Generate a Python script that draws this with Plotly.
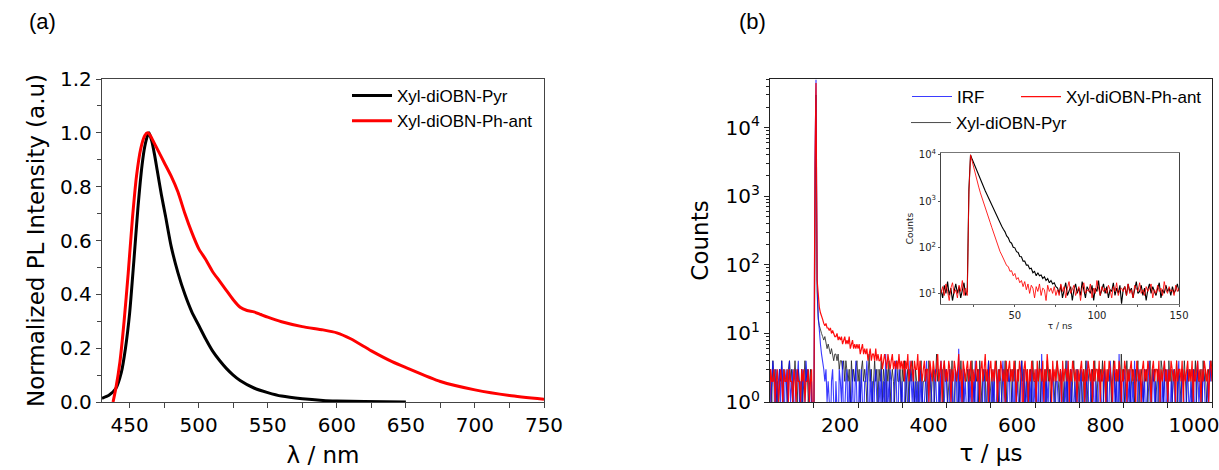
import numpy as np
import plotly.graph_objects as go

W, H = 1219, 470

# ---------------- Panel (a): normalized PL spectra ----------------
PYR_WL = [430, 435, 440, 444, 447, 450, 453, 456, 459, 461, 463, 464, 466, 468, 470, 473, 476,
          480, 485, 490, 495, 500, 505, 510, 515, 520, 525, 530, 540, 550, 560, 575, 590, 600,
          620, 650]
PYR_PL = [0.014, 0.025, 0.05, 0.11, 0.2, 0.33, 0.52, 0.72, 0.88, 0.95, 0.99, 1.0, 0.97, 0.92,
          0.86, 0.77, 0.69, 0.58, 0.48, 0.40, 0.335, 0.285, 0.235, 0.19, 0.155, 0.125, 0.1,
          0.08, 0.052, 0.035, 0.022, 0.012, 0.006, 0.004, 0.002, 0.0]

PHA_WL = [438, 440, 443, 446, 449, 452, 455, 458, 461, 463, 465, 468, 471, 475, 480, 485, 490,
          495, 500, 505, 510, 515, 520, 525, 530, 535, 540, 545, 550, 560, 575, 590, 600, 610,
          625, 640, 650, 675, 700, 725, 750]
PHA_PL = [0.0, 0.05, 0.15, 0.3, 0.48, 0.68, 0.84, 0.94, 0.99, 1.0, 0.99, 0.96, 0.93, 0.89, 0.84,
          0.78, 0.7, 0.63, 0.57, 0.53, 0.485, 0.45, 0.415, 0.38, 0.352, 0.34, 0.335, 0.325,
          0.315, 0.298, 0.28, 0.268, 0.257, 0.235, 0.19, 0.15, 0.128, 0.076, 0.045, 0.024, 0.01]

# ---------------- Panel (b): decay curves (counts per 2.5 us channel, 0..1000 us) ----------------
T_STEP_US = 2.5
IRF_COUNTS = [
    3, 1, 2, 4, 2, 0, 3, 1, 2, 3, 1, 4, 2, 0, 2, 3, 1, 2, 4, 1,
    2, 3, 0, 1, 3, 2, 4, 1, 2, 0, 3, 2, 1, 4, 2, 3, 1, 0, 2, 0,
    0, 3000, 50000, 60, 18, 9, 7, 5, 4, 3, 2, 3, 1, 2, 1, 0, 2, 3, 1, 0,
    2, 1, 0, 3, 2, 1, 4, 0, 1, 2, 3, 0, 2, 1, 1, 3, 0, 2, 4, 1,
    0, 2, 1, 3, 1, 0, 2, 2, 4, 1, 0, 3, 1, 2, 0, 2, 3, 1, 0, 2,
    1, 3, 0, 2, 1, 5, 0, 2, 1, 3, 2, 0, 1, 2, 4, 1, 0, 3, 2, 1,
    2, 0, 1, 3, 2, 1, 0, 4, 2, 1, 3, 0, 2, 1, 2, 0, 3, 1, 2, 0,
    1, 2, 4, 0, 1, 3, 2, 1, 0, 2, 3, 1, 0, 2, 1, 4, 2, 0, 1, 3,
    2, 1, 0, 3, 1, 2, 0, 1, 3, 2, 0, 6, 1, 2, 0, 3, 1, 2, 1, 0,
    3, 1, 2, 0, 2, 1, 4, 0, 1, 3, 2, 1, 0, 2, 3, 0, 1, 2, 4, 1,
    0, 2, 1, 3, 0, 1, 2, 3, 1, 0, 2, 4, 1, 2, 0, 1, 3, 2, 0, 1,
    2, 0, 3, 1, 2, 1, 0, 2, 4, 1, 3, 0, 2, 1, 0, 2, 1, 3, 0, 2,
    1, 3, 0, 2, 1, 0, 5, 1, 2, 0, 3, 1, 2, 0, 1, 2, 3, 1, 0, 2,
    2, 1, 0, 3, 2, 1, 0, 2, 1, 4, 0, 2, 1, 3, 0, 1, 2, 0, 3, 1,
    0, 2, 3, 1, 0, 2, 1, 4, 2, 0, 1, 3, 1, 2, 0, 2, 1, 0, 3, 2,
    1, 0, 2, 3, 1, 2, 0, 1, 4, 2, 1, 0, 3, 1, 2, 0, 5, 1, 2, 0,
    2, 3, 1, 0, 2, 1, 3, 0, 2, 1, 4, 1, 0, 2, 3, 1, 0, 2, 1, 3,
    0, 1, 2, 4, 1, 0, 2, 3, 1, 2, 0, 1, 3, 2, 0, 2, 1, 4, 0, 1,
    3, 1, 0, 2, 1, 3, 2, 0, 1, 2, 4, 0, 1, 3, 2, 1, 0, 2, 3, 1,
    1, 2, 0, 3, 1, 0, 2, 4, 1, 2, 0, 1, 3, 2, 1, 0, 2, 1, 4, 2,
    3]
PYR_COUNTS = [
    2, 3, 1, 4, 2, 3, 1, 2, 0, 3, 2, 4, 1, 3, 2, 2, 1, 3, 4, 2,
    3, 1, 2, 4, 2, 1, 3, 2, 0, 3, 1, 2, 4, 2, 3, 1, 2, 3, 1, 0,
    0, 1500, 30000, 40, 16, 13, 11, 10, 9, 8, 9, 7, 6, 7, 6, 5, 6, 5, 4, 5,
    5, 4, 5, 3, 4, 4, 3, 4, 2, 4, 3, 2, 3, 1, 4, 2, 3, 2, 3, 4,
    2, 3, 1, 3, 4, 2, 3, 2, 1, 3, 5, 2, 3, 1, 2, 4, 2, 3, 1, 3,
    2, 4, 1, 3, 2, 0, 3, 2, 4, 1, 2, 3, 2, 1, 3, 4, 2, 2, 3, 1,
    3, 2, 4, 1, 2, 3, 1, 3, 2, 4, 2, 1, 3, 2, 0, 3, 2, 4, 1, 2,
    2, 3, 1, 2, 4, 3, 1, 2, 3, 1, 2, 5, 2, 3, 1, 2, 3, 1, 4, 2,
    3, 1, 2, 3, 2, 4, 1, 0, 3, 2, 3, 1, 2, 4, 2, 1, 3, 2, 2, 3,
    1, 3, 2, 4, 2, 1, 3, 2, 3, 1, 4, 2, 1, 3, 2, 3, 0, 2, 4, 1,
    2, 3, 1, 2, 3, 4, 2, 1, 3, 2, 1, 3, 2, 4, 1, 3, 2, 2, 3, 1,
    3, 2, 4, 1, 2, 3, 1, 2, 4, 2, 3, 1, 2, 3, 0, 2, 3, 1, 4, 2,
    2, 1, 3, 2, 4, 1, 3, 2, 2, 3, 1, 4, 2, 3, 1, 2, 3, 2, 1, 3,
    4, 2, 1, 3, 2, 3, 1, 2, 4, 1, 3, 2, 3, 1, 2, 4, 2, 1, 3, 2,
    1, 3, 2, 0, 3, 2, 4, 1, 2, 3, 2, 1, 3, 2, 4, 2, 1, 3, 2, 3,
    2, 4, 1, 3, 2, 1, 3, 2, 3, 1, 2, 4, 2, 1, 3, 2, 3, 1, 5, 2,
    3, 1, 2, 4, 2, 3, 1, 2, 3, 2, 1, 3, 2, 4, 1, 2, 3, 2, 1, 3,
    2, 3, 1, 2, 4, 1, 3, 2, 3, 1, 2, 3, 0, 2, 4, 3, 1, 2, 3, 2,
    1, 4, 2, 3, 1, 2, 3, 2, 4, 1, 3, 2, 1, 3, 2, 4, 2, 1, 3, 2,
    3, 2, 1, 3, 2, 4, 1, 3, 2, 2, 3, 1, 4, 2, 3, 1, 2, 3, 2, 4,
    3]
PHA_COUNTS = [
    1, 3, 2, 2, 3, 1, 2, 3, 1, 2, 3, 2, 1, 3, 2, 2, 3, 1, 3, 2,
    2, 1, 3, 2, 1, 3, 2, 2, 1, 3, 2, 3, 1, 2, 2, 3, 1, 2, 3, 0,
    0, 2500, 45000, 60, 32, 24, 20, 17, 16, 14, 13, 14, 12, 12, 11, 12, 10, 11, 10, 9,
    9, 10, 8, 9, 8, 9, 7, 8, 9, 7, 8, 7, 9, 6, 7, 8, 6, 7, 6, 7,
    6, 7, 5, 6, 7, 5, 6, 5, 6, 4, 5, 6, 4, 5, 5, 4, 6, 4, 5, 4,
    4, 5, 3, 4, 5, 4, 3, 5, 4, 3, 4, 5, 3, 4, 3, 4, 3, 5, 3, 4,
    3, 4, 2, 4, 3, 5, 2, 3, 4, 3, 2, 4, 3, 3, 5, 2, 4, 3, 2, 3,
    4, 2, 3, 3, 1, 4, 3, 2, 4, 3, 2, 3, 5, 2, 3, 4, 1, 3, 4, 2,
    3, 2, 4, 3, 1, 3, 2, 4, 3, 2, 3, 5, 2, 3, 1, 4, 3, 2, 3, 4,
    2, 3, 4, 1, 3, 2, 3, 4, 2, 3, 1, 3, 4, 2, 3, 5, 2, 3, 1, 3,
    4, 2, 3, 2, 4, 3, 1, 3, 2, 4, 3, 2, 3, 1, 4, 2, 3, 4, 2, 3,
    2, 4, 3, 1, 3, 2, 4, 3, 2, 0, 3, 4, 2, 3, 1, 3, 2, 4, 3, 2,
    3, 1, 4, 2, 3, 3, 2, 4, 1, 3, 2, 5, 3, 2, 3, 1, 4, 2, 3, 2,
    4, 3, 2, 3, 1, 4, 2, 3, 3, 2, 4, 1, 3, 2, 4, 3, 2, 3, 1, 3,
    2, 3, 4, 2, 3, 1, 3, 2, 4, 3, 2, 3, 1, 4, 2, 3, 3, 2, 4, 1,
    3, 2, 3, 4, 1, 3, 2, 4, 3, 2, 1, 3, 4, 2, 3, 2, 4, 3, 1, 3,
    2, 4, 3, 1, 3, 2, 3, 4, 2, 3, 2, 1, 4, 3, 2, 3, 1, 3, 4, 2,
    3, 2, 4, 3, 2, 1, 3, 4, 2, 3, 3, 2, 4, 1, 3, 2, 3, 4, 2, 3,
    1, 3, 2, 4, 3, 2, 3, 1, 4, 2, 3, 3, 2, 4, 1, 3, 2, 3, 4, 2,
    3, 2, 4, 1, 3, 2, 3, 4, 2, 3, 1, 3, 2, 4, 3, 2, 3, 1, 3, 4,
    2]

# ---------------- Inset: decays on ns scale (1 ns channels, 5..150 ns) ----------------
T_START_NS, T_STEP_NS = 5, 1
INSET_PYR = [12, 8, 15, 10, 18, 9, 13, 7, 11, 16, 10, 14, 8, 12, 17, 9,
             11, 1800, 10000,
             8000, 6500, 5300, 4300, 3500, 2900, 2400, 2000, 1650, 1380,
             1150, 960, 810, 680, 570, 475, 400, 335, 285, 245,
             215, 175, 160, 130, 122, 100, 97, 80, 77, 63,
             62, 50, 50, 41, 41, 34, 35, 28, 30, 24,
             28, 24, 25, 21, 23, 19, 21, 17, 19, 16,
             17, 14,
             13, 10, 15, 8, 12, 17, 9, 11, 14, 7,
             12, 16, 10, 13, 9, 18, 11, 8, 14, 12,
             10, 15, 7, 13, 11, 19, 9, 12, 16, 10,
             14, 8, 12, 11, 17, 9, 13, 10, 15, 6,
             12, 14, 9, 16, 11, 13, 8, 12, 18, 10,
             11, 15, 9, 13, 7, 12, 16, 10, 14, 11,
             9, 13, 17, 8, 12, 10, 15, 11, 13, 9,
             14, 10, 12, 16, 11]
INSET_PHA = [10, 14, 9, 16, 11, 7, 13, 17, 10, 12, 8, 15, 11, 19, 9, 13,
             9, 1500, 10000,
             7000, 5000, 3600, 2700, 2000, 1500, 1150, 900, 700, 550,
             430, 340, 265, 205, 160, 125, 100, 80, 68, 56,
             50, 40, 38, 30, 31, 24, 27, 20, 22, 17,
             19, 14, 18, 12, 16, 10, 15, 13, 8, 14,
             11, 16, 9, 13, 12, 7, 15, 11, 13, 10,
             14, 9,
             12, 9, 16, 11, 14, 8, 13, 18, 10, 12,
             15, 9, 11, 14, 7, 13, 17, 10, 12, 11,
             16, 8, 13, 10, 19, 12, 9, 14, 11, 13,
             10, 15, 12, 8, 14, 11, 17, 9, 12, 13,
             11, 14, 9, 16, 10, 12, 8, 15, 13, 11,
             17, 10, 12, 9, 14, 11, 13, 16, 8, 12,
             10, 15, 11, 13, 9, 18, 12, 10, 14, 11,
             12, 9, 15, 11, 13]

LEGEND_A = ["Xyl-diOBN-Pyr", "Xyl-diOBN-Ph-ant"]
LEGEND_B = ["IRF", "Xyl-diOBN-Ph-ant", "Xyl-diOBN-Pyr"]

# ---------------- build ----------------
t_us = T_STEP_US * np.arange(len(IRF_COUNTS))
t_ns = T_START_NS + T_STEP_NS * np.arange(len(INSET_PYR))


def on_log(counts):
    # zero counts are drawn down to (and clipped at) the bottom of the log axis
    arr = np.asarray(counts, dtype=float)
    return np.where(arr <= 0, 0.3, arr)


TICKF = dict(family="DejaVu Sans", size=20, color="black")
TITLEF = dict(family="DejaVu Sans", size=23, color="black")
LEGF = dict(family="Liberation Sans, Arial", size=17, color="black")
INF = dict(family="DejaVu Sans", size=10, color="#222")

fig = go.Figure()

# Panel a
fig.add_trace(go.Scatter(x=PYR_WL, y=PYR_PL, mode="lines", name=LEGEND_A[0],
                         line=dict(color="black", width=3, shape="spline", smoothing=0.6),
                         xaxis="x", yaxis="y", legend="legend"))
fig.add_trace(go.Scatter(x=PHA_WL, y=PHA_PL, mode="lines", name=LEGEND_A[1],
                         line=dict(color="#ff0000", width=3, shape="spline", smoothing=0.6),
                         xaxis="x", yaxis="y", legend="legend"))

# Panel b main (black underneath, IRF in the middle, red on top)
fig.add_trace(go.Scatter(x=t_us, y=on_log(PYR_COUNTS), mode="lines", name=LEGEND_B[2],
                         line=dict(color="rgba(30,30,30,0.8)", width=1),
                         xaxis="x2", yaxis="y2", legend="legend3"))
fig.add_trace(go.Scatter(x=t_us, y=on_log(IRF_COUNTS), mode="lines", name=LEGEND_B[0],
                         line=dict(color="rgba(10,10,255,0.8)", width=1.1),
                         xaxis="x2", yaxis="y2", legend="legend2"))
fig.add_trace(go.Scatter(x=t_us, y=on_log(PHA_COUNTS), mode="lines", name=LEGEND_B[1],
                         line=dict(color="rgba(255,0,0,0.95)", width=1.2),
                         xaxis="x2", yaxis="y2", legend="legend4"))

# Inset
fig.add_trace(go.Scatter(x=t_ns, y=INSET_PYR, mode="lines", showlegend=False,
                         line=dict(color="black", width=1.1), xaxis="x3", yaxis="y3"))
fig.add_trace(go.Scatter(x=t_ns, y=INSET_PHA, mode="lines", showlegend=False,
                         line=dict(color="rgba(255,0,0,0.85)", width=1), xaxis="x3", yaxis="y3"))


def px(x):
    return x / W


def py(y):
    return 1 - y / H


ydom = [py(402), py(79)]
log_minor = [m * 10 ** k for k in range(0, 5) for m in range(2, 10)]


def leg(x, y):
    return dict(x=px(x), y=py(y), xanchor="left", yanchor="top", bgcolor="rgba(0,0,0,0)",
                borderwidth=0, font=LEGF, itemwidth=40, tracegroupgap=0)


fig.update_layout(
    template="none",
    width=W, height=H,
    margin=dict(l=0, r=0, t=0, b=0, pad=0, autoexpand=False),
    paper_bgcolor="white", plot_bgcolor="rgba(0,0,0,0)",
    font=dict(family="DejaVu Sans", color="black"),
    xaxis=dict(domain=[px(102), px(544)], range=[430, 750], dtick=50, anchor="y",
               automargin=False,
               showline=True, linecolor="#444", linewidth=1.3, mirror=True,
               ticks="outside", ticklen=5, tickcolor="#444",
               minor=dict(ticks="outside", dtick=25, ticklen=5, tickcolor="#444"),
               showgrid=False, zeroline=False, tickfont=TICKF,
               title=dict(text="λ / nm", font=TITLEF, standoff=10)),
    yaxis=dict(domain=ydom, range=[0, 1.2], dtick=0.2, tickformat=".1f", anchor="x",
               automargin=False,
               showline=True, linecolor="#444", linewidth=1.3, mirror=True,
               ticks="outside", ticklen=5, tickcolor="#444",
               minor=dict(ticks="outside", dtick=0.1, ticklen=4, tickcolor="#444"),
               showgrid=False, zeroline=False, tickfont=TICKF,
               title=dict(text="Normalized PL Intensity (a.u)", font=TITLEF, standoff=8)),
    xaxis2=dict(domain=[px(770), px(1212)], range=[1, 1000], dtick=200, anchor="y2",
                automargin=False, ticklabelshift=-18, ticklabeloverflow="allow",
                showline=True, linecolor="#222", linewidth=1.3, mirror=True,
                ticks="outside", ticklen=5, tickcolor="#222",
                minor=dict(ticks="outside", dtick=100, ticklen=5, tickcolor="#222"),
                showgrid=False, zeroline=False, tickfont=TICKF,
                title=dict(text="τ / μs", font=TITLEF, standoff=8)),
    yaxis2=dict(domain=ydom, type="log", range=[0, 4.71], anchor="x2",
                automargin=False,
                tickvals=[1, 10, 100, 1000, 10000],
                ticktext=["10<sup>0</sup>", "10<sup>1</sup>", "10<sup>2</sup>",
                          "10<sup>3</sup>", "10<sup>4</sup>"],
                showline=True, linecolor="#222", linewidth=1.3, mirror=True,
                ticks="outside", ticklen=5, tickcolor="#222",
                minor=dict(ticks="outside", tickvals=log_minor, ticklen=3, tickcolor="#222"),
                showgrid=False, zeroline=False, tickfont=TICKF,
                title=dict(text="Counts", font=TITLEF, standoff=10)),
    xaxis3=dict(domain=[px(941), px(1179)], range=[5, 150], anchor="y3",
                automargin=False,
                tickvals=[50, 100, 150],
                showline=True, linecolor="#777", linewidth=1, mirror=True,
                ticks="outside", ticklen=2, tickcolor="#555",
                minor=dict(ticks="outside", tickvals=[25, 75, 125], ticklen=2, tickcolor="#555"),
                showgrid=False, zeroline=False, tickfont=INF,
                title=dict(text="τ / ns", font=dict(family="DejaVu Sans", size=9, color="#222"),
                           standoff=2)),
    yaxis3=dict(domain=[py(304), py(153)], type="log", range=[0.77, 4.04], anchor="x3",
                automargin=False,
                tickvals=[10, 100, 1000, 10000],
                ticktext=["10<sup>1</sup>", "10<sup>2</sup>", "10<sup>3</sup>", "10<sup>4</sup>"],
                showline=True, linecolor="#444", linewidth=1, mirror=True,
                ticks="outside", ticklen=2, tickcolor="#555",
                showgrid=False, zeroline=False, tickfont=INF,
                title=dict(text="Counts", font=dict(family="DejaVu Sans", size=9, color="#222"),
                           standoff=3)),
    legend=leg(347, 78),
    legend2=leg(907, 79),
    legend3=leg(906, 105),
    legend4=leg(1016, 79),
    annotations=[
        dict(text="(a)", x=px(42), y=py(22), xref="paper", yref="paper",
             xanchor="center", yanchor="middle", showarrow=False,
             font=dict(family="Liberation Sans, Arial", size=22, color="black")),
        dict(text="(b)", x=px(752), y=py(22), xref="paper", yref="paper",
             xanchor="center", yanchor="middle", showarrow=False,
             font=dict(family="Liberation Sans, Arial", size=22, color="black")),
    ],
    showlegend=True,
)

# The page's default body margin would offset the figure; remove it so the figure fills the window.
fig.write_html("out.html", config={"displayModeBar": False},
               post_script="document.body.style.margin='0px';")
